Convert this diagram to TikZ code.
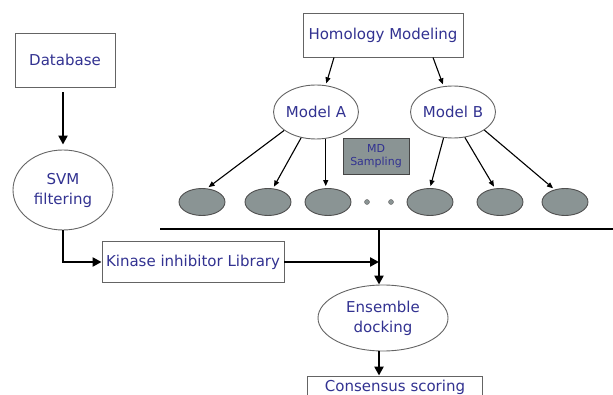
\documentclass[tikz,border=0pt]{standalone}
\usepackage{fontspec}
\setmainfont{DejaVu Sans}
\usetikzlibrary{shapes.geometric, arrows.meta, positioning, calc}
\definecolor{colText}{RGB}{50, 50, 145}
\definecolor{colGray}{RGB}{138, 148, 148}
\definecolor{colEdge}{RGB}{100, 100, 100}

\begin{document}
\begin{tikzpicture}[x=1pt, y=-1pt,
    every node/.style={font=\fontsize{15}{20}\selectfont, text=colText, inner sep=0pt},
    box/.style={draw=colEdge, fill=white, line width=0.9pt},
    oval/.style={ellipse, draw=colEdge, fill=white, line width=0.9pt, align=center},
    conf/.style={ellipse, draw=colEdge!80!black, fill=colGray, line width=0.9pt,
        minimum width=46pt, minimum height=27pt},
    flow/.style={line width=2.6pt, -{Triangle[length=9pt, width=9pt]}},
    branch/.style={line width=1.1pt, shorten >=2pt, -{Triangle[length=6pt, width=5pt]}}]
    \clip (0,0) rectangle (613,395);

    % --- Ligand side ---
    \node[box, minimum width=100pt, minimum height=54pt] (db) at (65,60) {Database};
    \node[oval, minimum width=100pt, minimum height=80pt] (svm) at (63,190) {SVM\\filtering};
    \node[box, minimum width=182pt, minimum height=41pt] (lib) at (193,262) {Kinase inhibitor Library};

    % --- Receptor side ---
    \node[box, minimum width=160pt, minimum height=44pt] (hom) at (383,35) {Homology Modeling};
    \node[oval, minimum width=75pt, minimum height=54pt] (ma) at (316,112) {Model A};
    \node[oval, minimum width=81pt, minimum height=52pt] (mb) at (453,112) {Model B};
    \node[draw=colEdge!70!black, fill=colGray, line width=0.9pt, minimum width=66pt,
        minimum height=36pt, align=center, font=\fontsize{11}{13}\selectfont] (md) at (376,156) {MD\\Sampling};

    % Konformationen (grau)
    \foreach \x/\n in {202/e1, 268/e2, 328/e3, 430/e4, 500/e5, 565/e6} {
        \node[conf] (\n) at (\x,202) {};
    }
    \foreach \x/\n in {367/d1, 391/d2} {
        \node[circle, draw=colEdge, fill=colGray, minimum size=5pt] (\n) at (\x,202) {};
    }

    % Sammelbalken
    \coordinate (barL) at (160,229);
    \coordinate (barR) at (613,229);
    \coordinate (jn) at (379,229);
    \draw[line width=2.4pt] (barL) -- (barR);

    % --- Docking ---
    \node[oval, minimum width=130pt, minimum height=66pt] (ens) at (383,318) {Ensemble\\docking};
    \node[box, minimum width=175pt, minimum height=22pt] (cons) at (395,387) {Consensus scoring};

    % Pfeile
    \draw[flow, shorten <=5pt, shorten >=5pt] (db.south -| svm.north) -- (svm.north);
    \draw[flow] (svm.south) |- (lib.west);
    \draw[flow] (lib.east) -- (lib.east -| jn);
    \draw[flow] (jn) -- (jn |- ens.north);
    \draw[flow] (jn |- ens.south) -- (jn |- cons.north);

    \draw[branch] ([xshift=-49pt]hom.south) -- (ma.70);
    \draw[branch] ([xshift=50pt]hom.south) -- (mb.110);
    \draw[branch] (ma.210) -- (e1.70);
    \draw[branch] (ma.240) -- (e2.70);
    \draw[branch] (ma.290) -- (ma.290 |- e3.north);
    \draw[branch] (mb.250) -- (e4.north);
    \draw[branch] (mb.295) -- (e5.110);
    \draw[branch] (mb.330) -- (e6.130);
\end{tikzpicture}
\end{document}
